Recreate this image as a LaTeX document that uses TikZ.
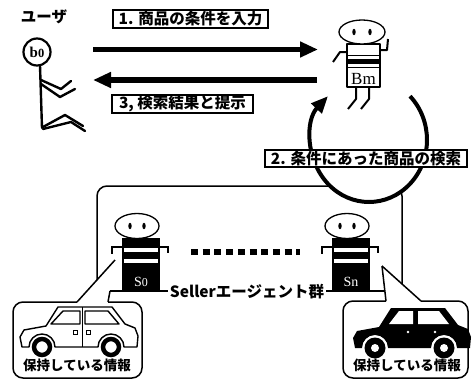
\documentclass[tikz,border=0pt]{standalone}
\usepackage{fontspec}
\usepackage{graphicx}
\usetikzlibrary{arrows.meta}
\newfontfamily\jpfont{Noto Sans CJK JP}
\newfontfamily\romanfont{Liberation Serif}

\tikzset{
  fig/.style={line width=2.4pt, line cap=round, line join=round},
  thin fig/.style={line width=1.3pt, line join=round},
  tag/.style={draw, line width=1.3pt, fill=white, inner sep=0pt,
    font=\jpfont\bfseries\fontsize{15.5}{16}\selectfont},
  bigarrow/.style={line width=5.5pt, -{Triangle[length=18pt,width=15pt]}},
  looparrow/.style={line width=4pt, -{Triangle[length=17pt,width=14pt]}},
  frameline/.style={line width=1.5pt, line join=round},
  carline/.style={line width=1.4pt, line join=round},
  % seller agent: origin at the top centre of its black body
  seller/.pic={
    \fill (-19,0) rectangle (19,52);
    \fill[white] (-17,10) rectangle (17,14);
    \fill[white] (-17,21) rectangle (17,25);
    \draw[thin fig, fill=white] (-4,-12) ellipse [x radius=22, y radius=12.5];
    \fill (-11,-12) ellipse [x radius=1.7, y radius=3.2];
    \fill (3,-12) ellipse [x radius=1.7, y radius=3.2];
    \draw[line width=2pt] (-19,9) -- (-29,9) -- (-29,16);
    \draw[line width=2pt] (19,9) -- (27,9) -- (27,15);
    \node[anchor=base, text=white, inner sep=0pt,
      font=\romanfont\fontsize{14}{14}\selectfont] at (0,48) {#1};
  }
}

\begin{document}
\begin{tikzpicture}[x=1pt,y=-1pt]
\useasboundingbox (0,0) rectangle (472,380);

% ---- user (stick figure) ----
\node[font=\jpfont\bfseries\fontsize{15.5}{16}\selectfont] (userlabel) at (44,17) {ユーザ};
\node[circle, draw, line width=2.2pt, minimum size=27pt, inner sep=0pt,
  font=\romanfont\bfseries\fontsize{15}{15}\selectfont] (user) at (37,52) {b\fontsize{12.5}{12.5}\selectfont 0};
\draw[fig] (40,65.5) -- (42,128);
\draw[fig] (41,80) -- (61,89) -- (71,81);
\draw[fig] (41,84) -- (60,97) -- (75,89);
\draw[fig] (43,127) -- (65,115) -- (83,126);
\draw[fig] (43,129) -- (71,122) -- (85,131);

% ---- requests between user and buyer agent ----
\coordinate (u-out) at (93,49.5);
\coordinate (bm-in) at (318,49.5);
\coordinate (bm-out) at (317,80);
\coordinate (u-in) at (93,80);
\draw[bigarrow] (u-out) -- (bm-in);
\draw[bigarrow] (bm-out) -- (u-in);
\node[tag, minimum width=155pt, minimum height=18pt] (lab1) at (190.5,19) {1. 商品の条件を入力};
\node[tag, minimum width=141pt, minimum height=18pt] (lab3) at (182.5,104) {3, 検索結果と提示};

% ---- seller group frame with its two callouts ----
\draw[frameline, rounded corners=10pt] (97,280.4) -- (97,186) -- (402,186) -- (402,284);
\draw[frameline] (384.9,291) -- (110,291);
\draw[frameline] (115,260) -- (77,302);
\draw[frameline] (110,291) -- (108,302);
\draw[frameline] (382,266) -- (421,301);
\draw[frameline] (382,266) -- (386,301);
\draw[frameline, rounded corners=10pt] (108,302) -- (142,302) -- (142,378) -- (13,378) -- (13,302) -- (77,302);
\draw[frameline, rounded corners=10pt] (386,301) -- (343,301) -- (343,378) -- (468,378) -- (468,301) -- (421,301);
\node[fill=white, inner sep=1.5pt, font=\jpfont\bfseries\fontsize{15.5}{16}\selectfont] (group) at (247,292) {Sellerエージェント群};

% ---- search loop of the buyer agent ----
\fill[white] (369,140) ellipse [x radius=58, y radius=62];
\draw[looparrow] (410.01,96.16) arc[start angle=-45, end angle=225, x radius=58, y radius=62];
\node[tag, minimum width=202pt, minimum height=17pt] (lab2) at (366,158.5) {2. 条件にあった商品の検索};

% ---- buyer agent Bm ----
\coordinate (bm) at (363,65);
\draw[thin fig, fill=white] (347,44) rectangle (380,87);
\draw[line width=1pt] (347,55) -- (380,55);
\fill (347,59) rectangle (380,63.5);
\draw[line width=1pt] (347,67) -- (380,67);
\draw[thin fig, fill=white] (362,32) ellipse [x radius=23, y radius=12];
\fill (354,32) ellipse [x radius=1.7, y radius=3.2];
\fill (370,32) ellipse [x radius=1.7, y radius=3.2];
\draw[line width=2pt, line join=round] (347,52) -- (340,52) -- (333,62);
\draw[line width=2pt, line join=round] (380,50) -- (387,50) -- (388,39);
\draw[line width=2pt, line join=round] (356,87) -- (356,99) -- (348,109);
\draw[line width=2pt, line join=round] (369,87) -- (369,99) -- (361,109);
\node[anchor=base, inner sep=0pt, font=\romanfont\fontsize{17}{17}\selectfont] at (363.5,84) {Bm};

% ---- seller agents ----
\pic at (141,238) {seller={S\fontsize{12}{12}\selectfont 0}};
\pic at (351,238) {seller={Sn}};
\coordinate (dots-l) at (191,252);
\coordinate (dots-r) at (300,252);
\draw[line width=6pt, dash pattern=on 7pt off 4.7pt] (dots-l) -- (dots-r);

% ---- car held by S0 (outline) ----
\draw[carline, fill=white] (22,347) -- (20,337) -- (24,330) -- (46,326) -- (58,307) -- (112,307)
  -- (125,324) -- (135,328) -- (138,336) -- (137,347) -- (124,347)
  arc[start angle=0, end angle=-180, radius=13] -- (55,347)
  arc[start angle=0, end angle=-180, radius=13] -- cycle;
\draw[carline] (51,324) -- (63,311) -- (80,311) -- (80,324) -- cycle;
\draw[carline] (85,311) -- (108,311) -- (119,324) -- (85,324) -- cycle;
\draw[carline] (82.5,307) -- (82.5,347);
\draw[line width=1pt] (73,330) rectangle (77,334);
\draw[line width=1pt] (86,330) rectangle (90,334);
\draw[line width=4.5pt, fill=white] (42,347) circle (8);
\draw[line width=4.5pt, fill=white] (111,347) circle (8);
\node[font=\jpfont\bfseries\fontsize{13.5}{14}\selectfont, inner sep=0pt] (info0) at (77,365) {保持している情報};

% ---- car held by Sn (solid) ----
\begin{scope}[shift={(333,1)}]
\fill (22,347) -- (20,337) -- (24,330) -- (46,326) -- (58,307) -- (112,307)
  -- (125,324) -- (135,328) -- (138,336) -- (137,347) -- (124,347)
  arc[start angle=0, end angle=-180, radius=13] -- (55,347)
  arc[start angle=0, end angle=-180, radius=13] -- cycle;
\fill[white] (56,323) -- (66,310) -- (80,310) -- (80,323) -- cycle;
\fill[white] (85,310) -- (106,310) -- (116,323) -- (85,323) -- cycle;
\fill[white] (75,331) circle (1.4);
\fill[white] (102,331) circle (1.4);
\fill[white] (42,347) circle (12.5);
\fill (42,347) circle (10.5);
\fill[white] (42,347) circle (4);
\fill[white] (111,347) circle (12.5);
\fill (111,347) circle (10.5);
\fill[white] (111,347) circle (4);
\end{scope}
\node[font=\jpfont\bfseries\fontsize{13.5}{14}\selectfont, inner sep=0pt] (infon) at (407,365) {保持している情報};

\end{tikzpicture}
\end{document}
